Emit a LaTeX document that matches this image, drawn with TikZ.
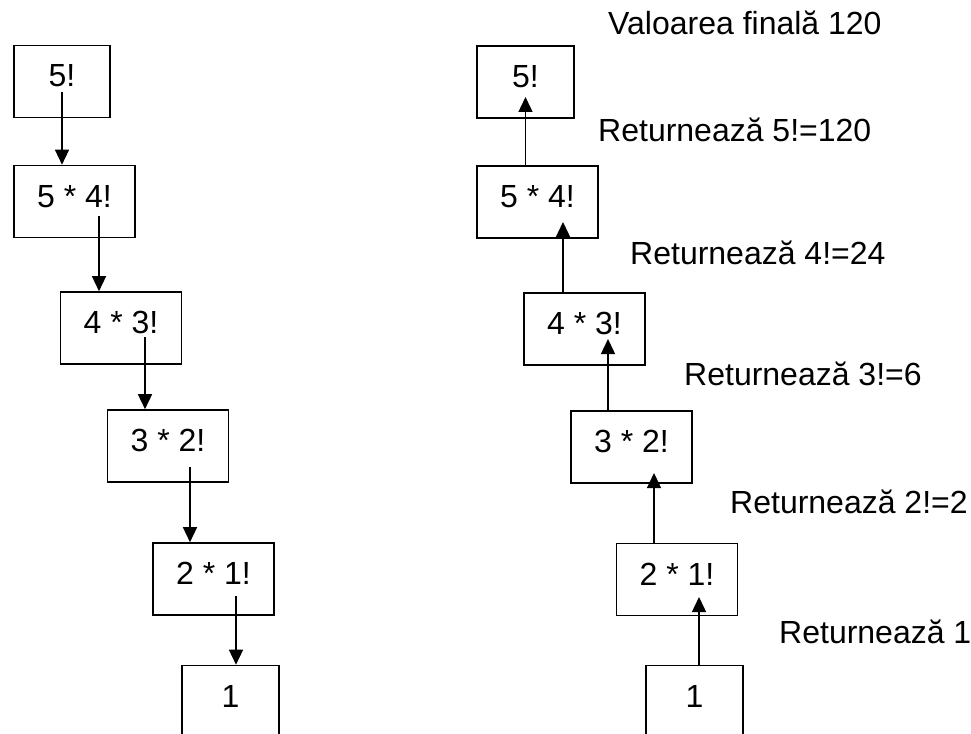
\documentclass[tikz,border=0pt]{standalone}
\usepackage{fontspec}
\setmainfont{Liberation Sans}
\usetikzlibrary{arrows.meta}
\tikzset{
	cell/.style={draw, line width=1.6pt, minimum height=72pt, inner sep=0pt,
		text height=22pt, text depth=11pt, font=\fontsize{32}{36}\selectfont},
	ret/.style={anchor=base west, inner sep=0pt, font=\fontsize{32}{36}\selectfont},
	call/.style={-{Triangle[length=15pt,width=14pt]}, line width=1.4pt}
}

\begin{document}
\begin{tikzpicture}[x=1pt,y=-1pt]
	\clip (0,0) rectangle (971,733);
	% apelurile (stanga)
	\foreach \name/\x/\y/\w/\txt in {L1/62/81.5/96/5!, L2/74.5/201.5/121/5 * 4!,
		L3/121/328/121/4 * 3!, L4/168/446/121/3 * 2!, L5/213.5/579/121/2 * 1!,
		L6/230.5/701.5/97/1}{
		\node[cell, minimum width=\w] (\name) at (\x,\y) {\txt};}
	\foreach \a/\b/\dx/\dy in {L1/L2/0/11, L2/L3/24.5/14.5, L3/L4/24/9,
		L4/L5/22/21, L5/L6/22.5/17}{
		\draw[call] ([shift={(\dx,\dy)}]\a.center) -- ([xshift=\dx]\a.center |- \b.north);}
	% revenirile (dreapta)
	\foreach \name/\x/\y/\w/\txt in {R1/525.5/82/97/5!, R2/537.5/202/121/5 * 4!,
		R3/584.5/329/121/4 * 3!, R4/631.5/447/121/3 * 2!, R5/677/579.5/121/2 * 1!,
		R6/694.5/701.5/97/1}{
		\node[cell, minimum width=\w] (\name) at (\x,\y) {\txt};}
	\foreach \lo/\hi/\dx/\dy in {R2/R1/0/15, R3/R2/25.5/20, R4/R3/23.5/10,
		R5/R4/22.5/26, R6/R5/22/17.5}{
		\draw[call] ([xshift=\dx]\hi.center |- \lo.north) -- ([shift={(\dx,\dy)}]\hi.center);}
	\node[ret] (fin) at (608,35) {Valoarea finală 120};
	\foreach \name/\x/\y/\txt in {t5/598/142/5!=120, t4/630/264/4!=24,
		t3/684/385/3!=6, t2/730/513/2!=2}{
		\node[ret] (\name) at (\x,\y) {Returnează \txt};}
	\node[ret] (t1) at (779,643) {Returnează 1};
\end{tikzpicture}
\end{document}
